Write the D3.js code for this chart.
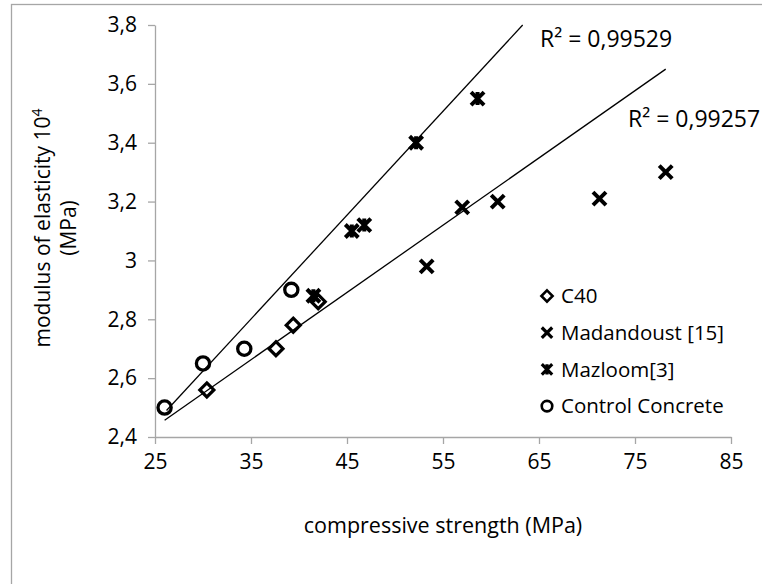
<!DOCTYPE html>
<html>
<head>
<meta charset="utf-8">
<script src="https://cdn.jsdelivr.net/npm/d3@7"></script>
<style>
    body { margin: 0; background: #fff; }
    text { font-family: "Open Sans", sans-serif; fill: #000; }
</style>
</head>
<body>
<svg id="chart"></svg>
<script>
// values
const c40X = [30.4, 37.6, 39.4, 42.0];
const c40Y = [2.56, 2.70, 2.78, 2.86];

const madandoustX = [53.3, 57.0, 60.7, 71.3, 78.2];
const madandoustY = [2.98, 3.18, 3.20, 3.21, 3.30];

const mazloomX = [41.5, 45.5, 46.8, 52.2, 58.6];
const mazloomY = [2.88, 3.10, 3.12, 3.40, 3.55];

const controlX = [26.0, 30.0, 34.3, 39.2];
const controlY = [2.50, 2.65, 2.70, 2.90];

// trendlines: start and end points
const trendSteepX = [26.2, 63.3];
const trendSteepY = [2.49, 3.80];
const trendFlatX = [26.0, 78.2];
const trendFlatY = [2.457, 3.65];
const r2Labels = ["R² = 0,99529", "R² = 0,99257"];

const xTicks = [25, 35, 45, 55, 65, 75, 85];
const yTicks = [2.4, 2.6, 2.8, 3.0, 3.2, 3.4, 3.6, 3.8];
const seriesNames = ["C40", "Madandoust [15]", "Mazloom[3]", "Control Concrete"];

const width = 762, height = 584;
const margin = { top: 25, right: 31, bottom: 147, left: 155 };
const w = width - margin.left - margin.right;
const h = height - margin.top - margin.bottom;

const svg = d3.select("#chart").attr("width", width).attr("height", height);

svg.append("rect")
    .attr("x", 11.5).attr("y", 4.5)
    .attr("width", 800).attr("height", 700)
    .attr("fill", "none").attr("stroke", "#a6a6a6").attr("stroke-width", 1.3);

const g = svg.append("g").attr("transform", `translate(${margin.left},${margin.top})`);

const x = d3.scaleLinear().domain([25, 85]).range([0, w]);
const y = d3.scaleLinear().domain([2.4, 3.8]).range([h, 0]);

const fmt = d => String(+d.toFixed(1)).replace(".", ",");

const xAxis = g.append("g")
    .attr("transform", `translate(0,${h})`)
    .call(d3.axisBottom(x).tickValues(xTicks).tickFormat(fmt).tickSize(7).tickSizeOuter(0).tickPadding(10));
const yAxis = g.append("g")
    .call(d3.axisLeft(y).tickValues(yTicks).tickFormat(fmt).tickSize(7).tickSizeOuter(0).tickPadding(11));

[xAxis, yAxis].forEach(a => {
    a.selectAll("path, line").attr("stroke", "#a6a6a6").attr("stroke-width", 1.3);
    a.selectAll("text").attr("font-size", 21).attr("fill", "#000")
        .style("font-family", "'Open Sans', sans-serif");
});

// axis titles
svg.append("text")
    .attr("x", 443).attr("y", 533)
    .attr("text-anchor", "middle").attr("font-size", 21.5)
    .text("compressive strength (MPa)");

const yTitle = svg.append("text")
    .attr("transform", "translate(50,228) rotate(-90)")
    .attr("text-anchor", "middle").attr("font-size", 21);
yTitle.append("tspan").attr("x", 0).attr("y", 0).text("modulus of elasticity 10");
yTitle.append("tspan").attr("dy", -8).attr("font-size", 14).text("4");
yTitle.append("tspan").attr("x", 0).attr("y", 26).text("(MPa)");

// trendlines
const line = d3.line().x(d => x(d[0])).y(d => y(d[1]));
[[trendSteepX, trendSteepY], [trendFlatX, trendFlatY]].forEach(([xs, ys]) => {
    g.append("path")
        .datum(xs.map((v, i) => [v, ys[i]]))
        .attr("d", line)
        .attr("fill", "none").attr("stroke", "#000").attr("stroke-width", 1.3);
});

svg.append("text").attr("x", 540).attr("y", 47).attr("font-size", 23).text(r2Labels[0]);
svg.append("text").attr("x", 628).attr("y", 127).attr("font-size", 23).text(r2Labels[1]);

// marker shapes
const shapes = {
    diamond: "M0,-7L7,0L0,7L-7,0Z",
    cross: "M-6.5,-6.5L6.5,6.5M6.5,-6.5L-6.5,6.5",
    star: "M-6.5,-6.5L6.5,6.5M6.5,-6.5L-6.5,6.5M0,-6.5L0,6.5",
    circle: "M6.6,0A6.6,6.6 0 1,1 -6.6,0A6.6,6.6 0 1,1 6.6,0Z"
};

const series = [
    { name: seriesNames[0], xs: c40X, ys: c40Y, shape: "diamond", sw: 3.2 },
    { name: seriesNames[1], xs: madandoustX, ys: madandoustY, shape: "cross", sw: 4 },
    { name: seriesNames[2], xs: mazloomX, ys: mazloomY, shape: "star", sw: 4 },
    { name: seriesNames[3], xs: controlX, ys: controlY, shape: "circle", sw: 3.3 }
];

series.forEach(s => {
    g.append("g").selectAll("path")
        .data(s.xs.map((v, i) => [v, s.ys[i]]))
        .join("path")
        .attr("transform", d => `translate(${x(d[0])},${y(d[1])})`)
        .attr("d", shapes[s.shape])
        .attr("fill", "none").attr("stroke", "#000").attr("stroke-width", s.sw);
});

// legend
const legend = svg.append("g").attr("transform", "translate(547,296)");
series.forEach((s, i) => {
    const row = legend.append("g").attr("transform", `translate(0,${i * 36.7})`);
    row.append("path")
        .attr("d", shapes[s.shape])
        .attr("transform", "scale(0.8)")
        .attr("fill", "none").attr("stroke", "#000").attr("stroke-width", s.sw);
    row.append("text").attr("x", 14).attr("dy", "0.35em").attr("font-size", 20.5).text(s.name);
});
</script>
</body>
</html>
